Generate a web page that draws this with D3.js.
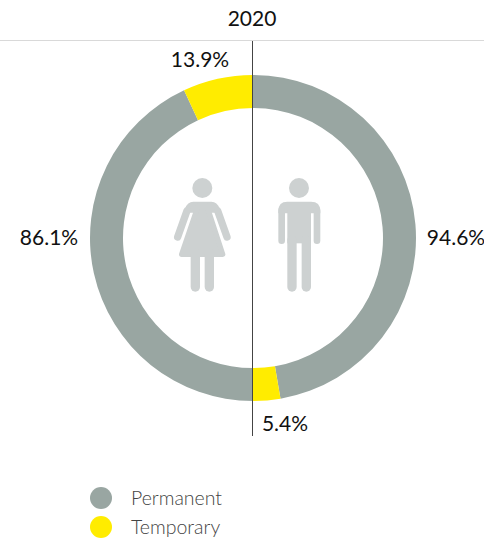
<!DOCTYPE html>
<html>
<head>
<meta charset="utf-8">
<script src="https://cdn.jsdelivr.net/npm/d3@7"></script>
<style>
html, body { margin: 0; padding: 0; background: #fff; }
svg { display: block; }
text { font-family: Lato, "Open Sans", sans-serif; }
</style>
</head>
<body>
<div class="chart"></div>
<script>
var year = "2020";
var categories = ["Permanent", "Temporary"];
var colors = ["#99a6a2", "#ffec00"];
var womenValues = [86.1, 13.9];
var menValues = [94.6, 5.4];

var width = 484, height = 542;
var cx = 253, cy = 238, outerR = 163, innerR = 130;

var svg = d3.select(".chart").append("svg")
    .attr("width", width)
    .attr("height", height);

var color = d3.scaleOrdinal().domain(categories).range(colors);
var arc = d3.arc().innerRadius(innerR).outerRadius(outerR);

// each half of the ring is its own 100%
function half(values, start, end) {
    var pie = d3.pie().sort(null).startAngle(start).endAngle(end);
    svg.append("g")
        .attr("transform", "translate(" + cx + "," + cy + ")")
        .selectAll("path")
        .data(pie(values))
        .enter().append("path")
        .attr("d", arc)
        .attr("fill", function(d, i) { return color(categories[i]); });
}
half(menValues, 0, Math.PI);
half(womenValues, Math.PI, 2 * Math.PI);

// rule and divider
svg.append("line").attr("x1", 0).attr("x2", width).attr("y1", 40.5).attr("y2", 40.5)
    .attr("stroke", "#d9d9d9").attr("stroke-width", 1);
svg.append("line").attr("x1", cx - 0.5).attr("x2", cx - 0.5).attr("y1", 41).attr("y2", 436)
    .attr("stroke", "#444").attr("stroke-width", 1);

// labels
function label(txt, x, y) {
    svg.append("text").attr("x", x).attr("y", y)
        .attr("text-anchor", "middle")
        .attr("font-size", 21)
        .attr("fill", "#111")
        .text(txt);
}
label(year, 252, 26);
label(womenValues[1].toFixed(1) + "%", 200, 67);
label(womenValues[0].toFixed(1) + "%", 49, 245);
label(menValues[0].toFixed(1) + "%", 456, 245);
label(menValues[1].toFixed(1) + "%", 285, 431);

// icons, drawn in a 3x grid
var iconColor = "#cdd1d1";
var icons = svg.append("g").attr("transform", "translate(150,160) scale(0.3333)");

function bar(x1, y1, x2, y2, w) {
    icons.append("line")
        .attr("x1", x1).attr("y1", y1).attr("x2", x2).attr("y2", y2)
        .attr("stroke", iconColor).attr("stroke-width", w).attr("stroke-linecap", "round");
}

// woman
icons.append("circle").attr("cx", 157).attr("cy", 84).attr("r", 30).attr("fill", iconColor);
icons.append("path")
    .attr("d", "M130,125H184Q202,125 208,145L212,158H102L106,145Q112,125 130,125Z")
    .attr("fill", iconColor);
icons.append("path")
    .attr("d", "M145,136H170L218,283H95Z")
    .attr("fill", iconColor).attr("stroke", iconColor)
    .attr("stroke-width", 16).attr("stroke-linejoin", "round");
bar(111, 152, 83, 231, 22);
bar(203, 152, 231, 231, 22);
bar(136, 280, 136, 381, 28);
bar(178, 280, 178, 381, 28);

// man
icons.append("circle").attr("cx", 447).attr("cy", 84).attr("r", 30).attr("fill", iconColor);
icons.append("path")
    .attr("d", "M412,125H483Q511,125 511,153V160H385V153Q385,125 412,125Z")
    .attr("fill", iconColor);
icons.append("rect").attr("x", 412).attr("y", 150).attr("width", 71).attr("height", 100).attr("fill", iconColor);
bar(395, 150, 395, 242, 20);
bar(501, 150, 501, 242, 20);
bar(426, 240, 426, 381, 28);
bar(469, 240, 469, 381, 28);

// legend
var legend = svg.append("g").selectAll("g")
    .data(categories)
    .enter().append("g");
legend.append("circle")
    .attr("cx", 101)
    .attr("cy", function(d, i) { return 498 + i * 29; })
    .attr("r", 11)
    .attr("fill", function(d) { return color(d); });
legend.append("text")
    .attr("x", 131)
    .attr("y", function(d, i) { return 505 + i * 29; })
    .attr("font-size", 19.5)
    .attr("font-weight", 300)
    .attr("fill", "#444")
    .text(function(d) { return d; });
</script>
</body>
</html>
